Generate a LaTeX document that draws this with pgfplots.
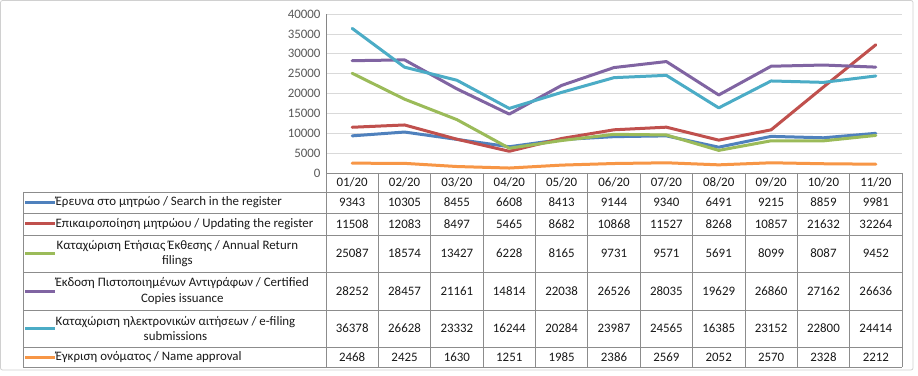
\documentclass[border=0pt]{standalone}
\usepackage{fontspec}
\setmainfont{Carlito}
\usepackage{pgfplots}
\usepackage{pgfplotstable}
\pgfplotsset{compat=1.18}
\definecolor{sBlue}{HTML}{4F81BD}
\definecolor{sRed}{HTML}{C0504D}
\definecolor{sGreen}{HTML}{9BBB59}
\definecolor{sPurple}{HTML}{8064A2}
\definecolor{sAqua}{HTML}{4BACC6}
\definecolor{sOrange}{HTML}{F79646}
\definecolor{gridgray}{HTML}{D9D9D9}
\definecolor{axisgray}{HTML}{868686}
\definecolor{tablegray}{HTML}{8C8C8C}
\definecolor{ticktext}{HTML}{595959}
\definecolor{framegray}{HTML}{D0D0D0}

\pgfplotstableread{
x search update annual certified efiling name
0 9343 11508 25087 28252 36378 2468
1 10305 12083 18574 28457 26628 2425
2 8455 8497 13427 21161 23332 1630
3 6608 5465 6228 14814 16244 1251
4 8413 8682 8165 22038 20284 1985
5 9144 10868 9731 26526 23987 2386
6 9340 11527 9571 28035 24565 2569
7 6491 8268 5691 19629 16385 2052
8 9215 10857 8099 26860 23152 2570
9 8859 21632 8087 27162 22800 2328
10 9981 32264 9452 26636 24414 2212
}\datatable

\newcommand{\tfont}{\fontsize{12.9}{15.5}\selectfont}
\newcommand{\rowvals}[2]{\foreach \v [count=\i from 0] in {#2} \node[font=\tfont, inner sep=0pt, text=black!90] at ({326+52.364*(\i+0.5)},#1) {\v};}

\begin{document}
\begin{tikzpicture}
\fill[white] (0,0) rectangle (918pt,375pt);
\begin{axis}[
  at={(326pt,202pt)}, anchor=south west,
  scale only axis, width=576pt, height=159pt,
  xmin=-0.5, xmax=10.5, ymin=0, ymax=40000,
  axis x line=none,
  axis y line*=left,
  y axis line style={color=axisgray, line width=0.75pt},
  ytick={0,5000,...,40000},
  scaled y ticks=false,
  yticklabel style={font=\tfont, text=ticktext, xshift=-2pt, /pgf/number format/.cd, fixed, 1000 sep={}, assume math mode=true},
  major tick length=0pt,
  ymajorgrids,
  grid style={color=gridgray, line width=0.75pt},
  every axis plot/.append style={line width=3pt, line join=round, line cap=round, mark=none},
]
\addplot[sBlue] table[x=x, y=search] {\datatable};
\addplot[sRed] table[x=x, y=update] {\datatable};
\addplot[sGreen] table[x=x, y=annual] {\datatable};
\addplot[sPurple] table[x=x, y=certified] {\datatable};
\addplot[sAqua] table[x=x, y=efiling] {\datatable};
\addplot[sOrange] table[x=x, y=name] {\datatable};
\end{axis}
\begin{scope}[x=1pt, y=-1pt, yshift=375pt]
  % outer frame
  \draw[framegray, line width=0.75pt, rounded corners=2pt] (0.5,0.5) rectangle (913,370);
  % table lines
  \begin{scope}[tablegray, line width=0.75pt]
    \draw (326,173) -- (902,173);
    \foreach \yy in {192,213,235,272,310,347,367} \draw (23,\yy) -- (902,\yy);
    \draw (23,192) -- (23,367);
    \foreach \i in {0,...,11} \draw ({326+52.364*\i},173) -- ({326+52.364*\i},367);
  \end{scope}
  % header
  \rowvals{182.5}{01/20,02/20,03/20,04/20,05/20,06/20,07/20,08/20,09/20,10/20,11/20}
  \rowvals{202.5}{9343,10305,8455,6608,8413,9144,9340,6491,9215,8859,9981}
  \rowvals{224}{11508,12083,8497,5465,8682,10868,11527,8268,10857,21632,32264}
  \rowvals{253.5}{25087,18574,13427,6228,8165,9731,9571,5691,8099,8087,9452}
  \rowvals{291}{28252,28457,21161,14814,22038,26526,28035,19629,26860,27162,26636}
  \rowvals{328.5}{36378,26628,23332,16244,20284,23987,24565,16385,23152,22800,24414}
  \rowvals{357}{2468,2425,1630,1251,1985,2386,2569,2052,2570,2328,2212}
  % legend keys
  \begin{scope}[line width=3pt]
    \draw[sBlue] (25,202.5) -- (55,202.5);
    \draw[sRed] (25,224) -- (55,224);
    \draw[sGreen] (25,253.5) -- (55,253.5);
    \draw[sPurple] (25,291) -- (55,291);
    \draw[sAqua] (25,328.5) -- (55,328.5);
    \draw[sOrange] (25,357) -- (55,357);
  \end{scope}
  \begin{scope}[every node/.style={font=\tfont, text=black!90, inner sep=0pt, anchor=west, align=center}]
    \node at (55.5,202.5) {Έρευνα στο μητρώο / Search in the register};
    \node at (55.5,224) {Επικαιροποίηση μητρώου / Updating the register};
    \node at (56.5,253.5) {Καταχώριση Ετήσιας Έκθεσης / Annual Return\\filings};
    \node at (55.5,291) {Έκδοση Πιστοποιημένων Αντιγράφων / Certified\\Copies issuance};
    \node at (55.5,328.5) {Καταχώριση ηλεκτρονικών αιτήσεων / e-filing\\submissions};
    \node at (55.5,357) {Έγκριση ονόματος / Name approval};
  \end{scope}
\end{scope}
\end{tikzpicture}
\end{document}
